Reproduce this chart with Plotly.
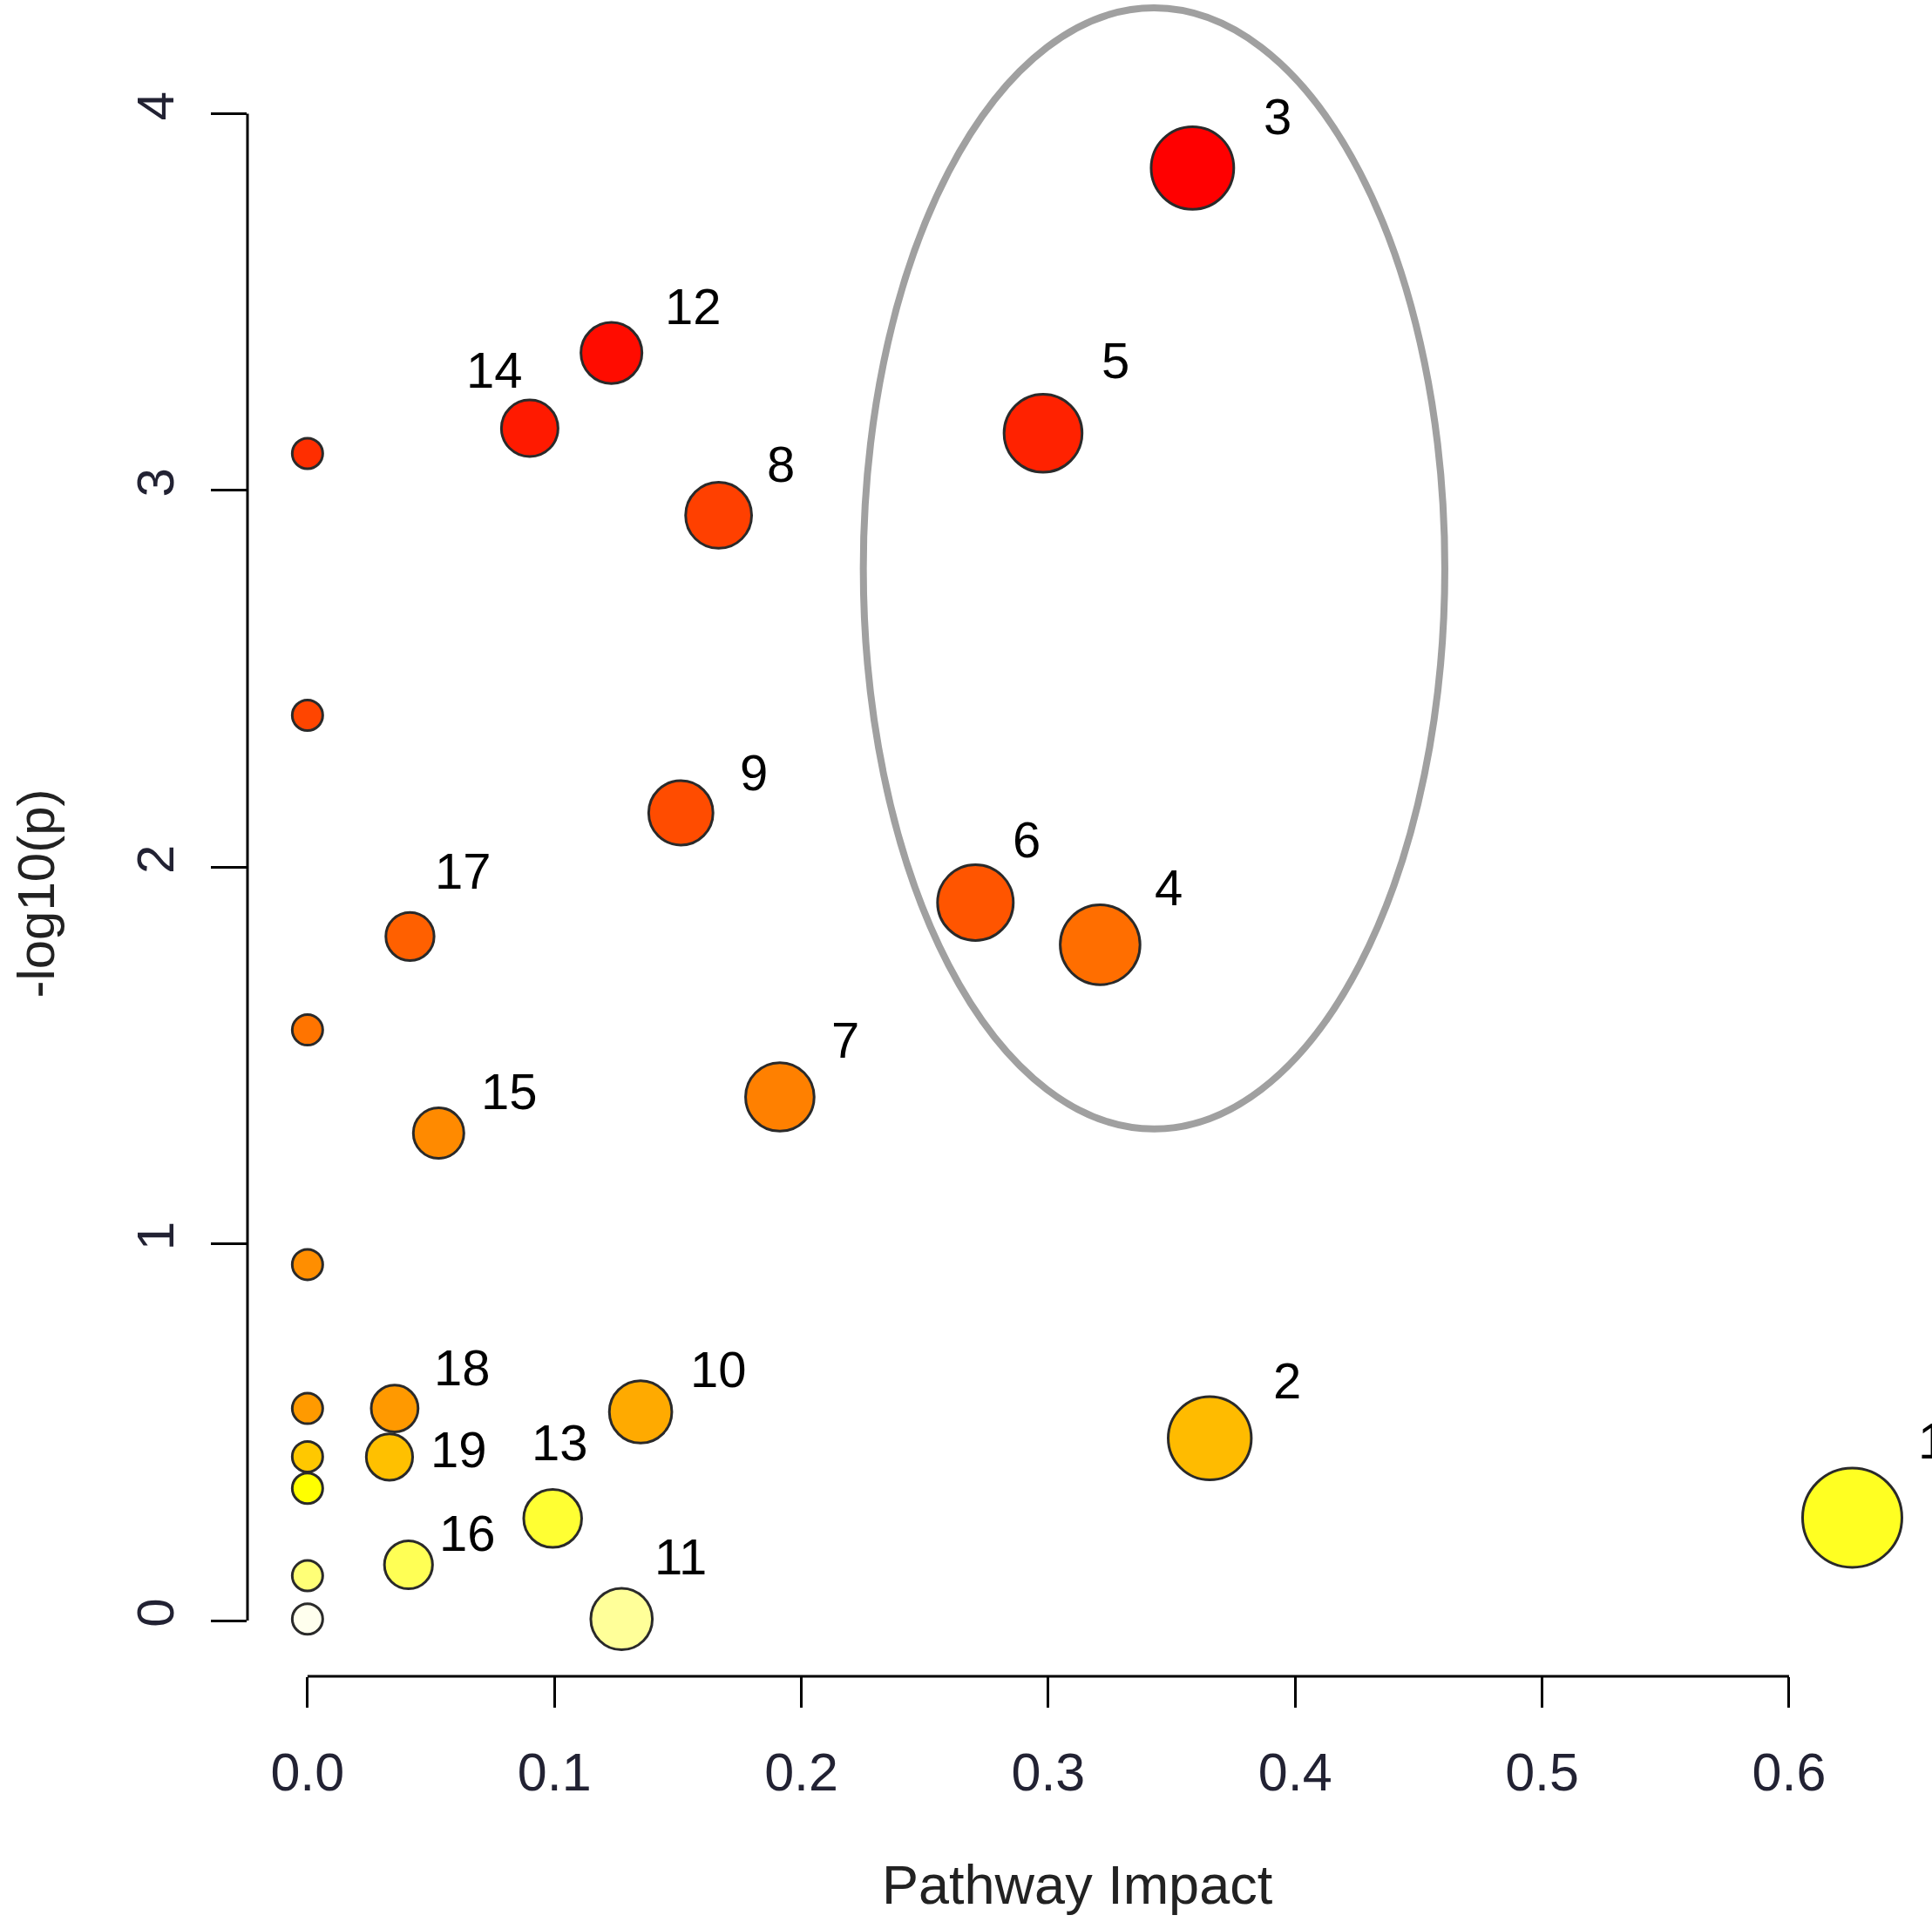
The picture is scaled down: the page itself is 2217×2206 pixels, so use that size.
import numpy as np
import plotly.graph_objects as go

# pathway impact (x) and -log10(p) (y); labelled pathways first, then unlabelled ones at impact 0
labels = ["1", "2", "3", "4", "5", "6", "7", "8", "9", "10",
          "11", "12", "13", "14", "15", "16", "17", "18", "19",
          "", "", "", "", "", "", "", "", ""]
impact = [0.6256, 0.3654, 0.3584, 0.3210, 0.2979, 0.2705, 0.1913, 0.1665, 0.1512, 0.1349,
          0.1272, 0.1231, 0.0993, 0.0900, 0.0531, 0.0409, 0.0415, 0.0353, 0.0332,
          0.0, 0.0, 0.0, 0.0, 0.0, 0.0, 0.0, 0.0, 0.0]
neglogp = [0.273, 0.484, 3.856, 1.794, 3.152, 1.906, 1.390, 2.934, 2.144, 0.554,
           0.004, 3.365, 0.271, 3.165, 1.294, 0.148, 1.816, 0.563, 0.434,
           3.098, 2.403, 1.568, 0.945, 0.563, 0.435, 0.351, 0.119, 0.004]

# styling
fill_colors = ["#FFFF22", "#FFBB00", "#FF0000", "#FF6E00", "#FF2200", "#FF5500", "#FF8000",
               "#FF4000", "#FF4C00", "#FFAA00", "#FFFF99", "#FF0C00", "#FFFF33", "#FF1A00",
               "#FF8A00", "#FFFF55", "#FF6000", "#FF9900", "#FFC000",
               "#FF2E00", "#FF4500", "#FF7400", "#FF8E00", "#FF9A00", "#FFC800", "#FFFF00",
               "#FFFF77", "#FFFFEE"]
# label offsets from the bubble centre in pixels (right, up)
label_dx = [92, 89, 98, 79, 83, 59, 75, 71, 84, 89, 68, 94, 8, -40, 81, 68, 61, 78, 80]
label_dy = [88, 66, 59, 66, 84, 72, 66, 59, 47, 49, 72, 54, 87, 67, 48, 37, 75, 47, 9]

W, H = 2217, 2206
ML, MR, MT, MB = 284, 0, 0, 282
xr = [-0.0243, 0.6579]
yr = [-0.148, 4.302]
FONT = "Liberation Sans, Arial, sans-serif"

x = np.array(impact)
y = np.array(neglogp)
# bubble diameter grows linearly with sqrt(impact)
sq = np.sqrt(x)
size = 35 + (114 - 35) * (sq - sq.min()) / (sq.max() - sq.min())

order = np.argsort(-y, kind="stable")

fig = go.Figure()
fig.add_trace(go.Scatter(
    x=x[order], y=y[order], mode="markers",
    marker=dict(size=size[order], color=[fill_colors[i] for i in order],
                line=dict(color="#2a2a2a", width=3), opacity=1),
    cliponaxis=False, hoverinfo="x+y", showlegend=False,
))

for i, lab in enumerate(labels):
    if not lab:
        continue
    fig.add_annotation(x=impact[i], y=neglogp[i], text=lab, showarrow=False,
                       xshift=label_dx[i], yshift=label_dy[i],
                       xanchor="center", yanchor="middle",
                       font=dict(family=FONT, size=58, color="black"))

# highlighted group
fig.add_shape(type="circle", xref="x", yref="y",
              x0=0.2251, x1=0.4606, y0=1.305, y1=4.281,
              line=dict(color="#a0a0a0", width=8), layer="below")

# R-style detached axis lines, spanning only the tick range
def px_frac(v, r):
    return (v - r[0]) / (r[1] - r[0])

fig.add_shape(type="line", xref="paper", yref="paper",
              x0=px_frac(0, xr), x1=px_frac(0.6, xr), y0=0, y1=0,
              line=dict(color="black", width=3))
fig.add_shape(type="line", xref="paper", yref="paper",
              x0=0, x1=0, y0=px_frac(0, yr), y1=px_frac(4, yr),
              line=dict(color="black", width=3))

# axis titles
fig.add_annotation(text="Pathway Impact", xref="x", yref="paper", x=0.312, y=0,
                   yshift=-239, showarrow=False, xanchor="center", yanchor="middle",
                   font=dict(family=FONT, size=63, color="#222222"))
fig.add_annotation(text="-log10(p)", xref="paper", yref="y", x=0, y=1.93,
                   xshift=-242, textangle=-90, showarrow=False,
                   xanchor="center", yanchor="middle",
                   font=dict(family=FONT, size=60, color="#222222"))

fig.update_layout(
    width=W, height=H,
    margin=dict(l=ML, r=MR, t=MT, b=MB, pad=0),
    paper_bgcolor="white", plot_bgcolor="white",
    showlegend=False,
    xaxis=dict(range=xr, showgrid=False, zeroline=False, showline=False,
               tickvals=[0, 0.1, 0.2, 0.3, 0.4, 0.5, 0.6], tickformat=".1f",
               ticks="outside", ticklen=35, tickwidth=3, tickcolor="black",
               ticklabelstandoff=22,
               tickfont=dict(family=FONT, size=61, color="#222233")),
    yaxis=dict(range=yr, showgrid=False, zeroline=False, showline=False,
               tickvals=[0, 1, 2, 3, 4], tickangle=-90,
               ticks="outside", ticklen=41, tickwidth=3, tickcolor="black",
               ticklabelstandoff=19,
               tickfont=dict(family=FONT, size=60, color="#222233")),
)

fig.write_html("out.html", config={"displayModeBar": False},
               post_script="document.body.style.margin='0';")
